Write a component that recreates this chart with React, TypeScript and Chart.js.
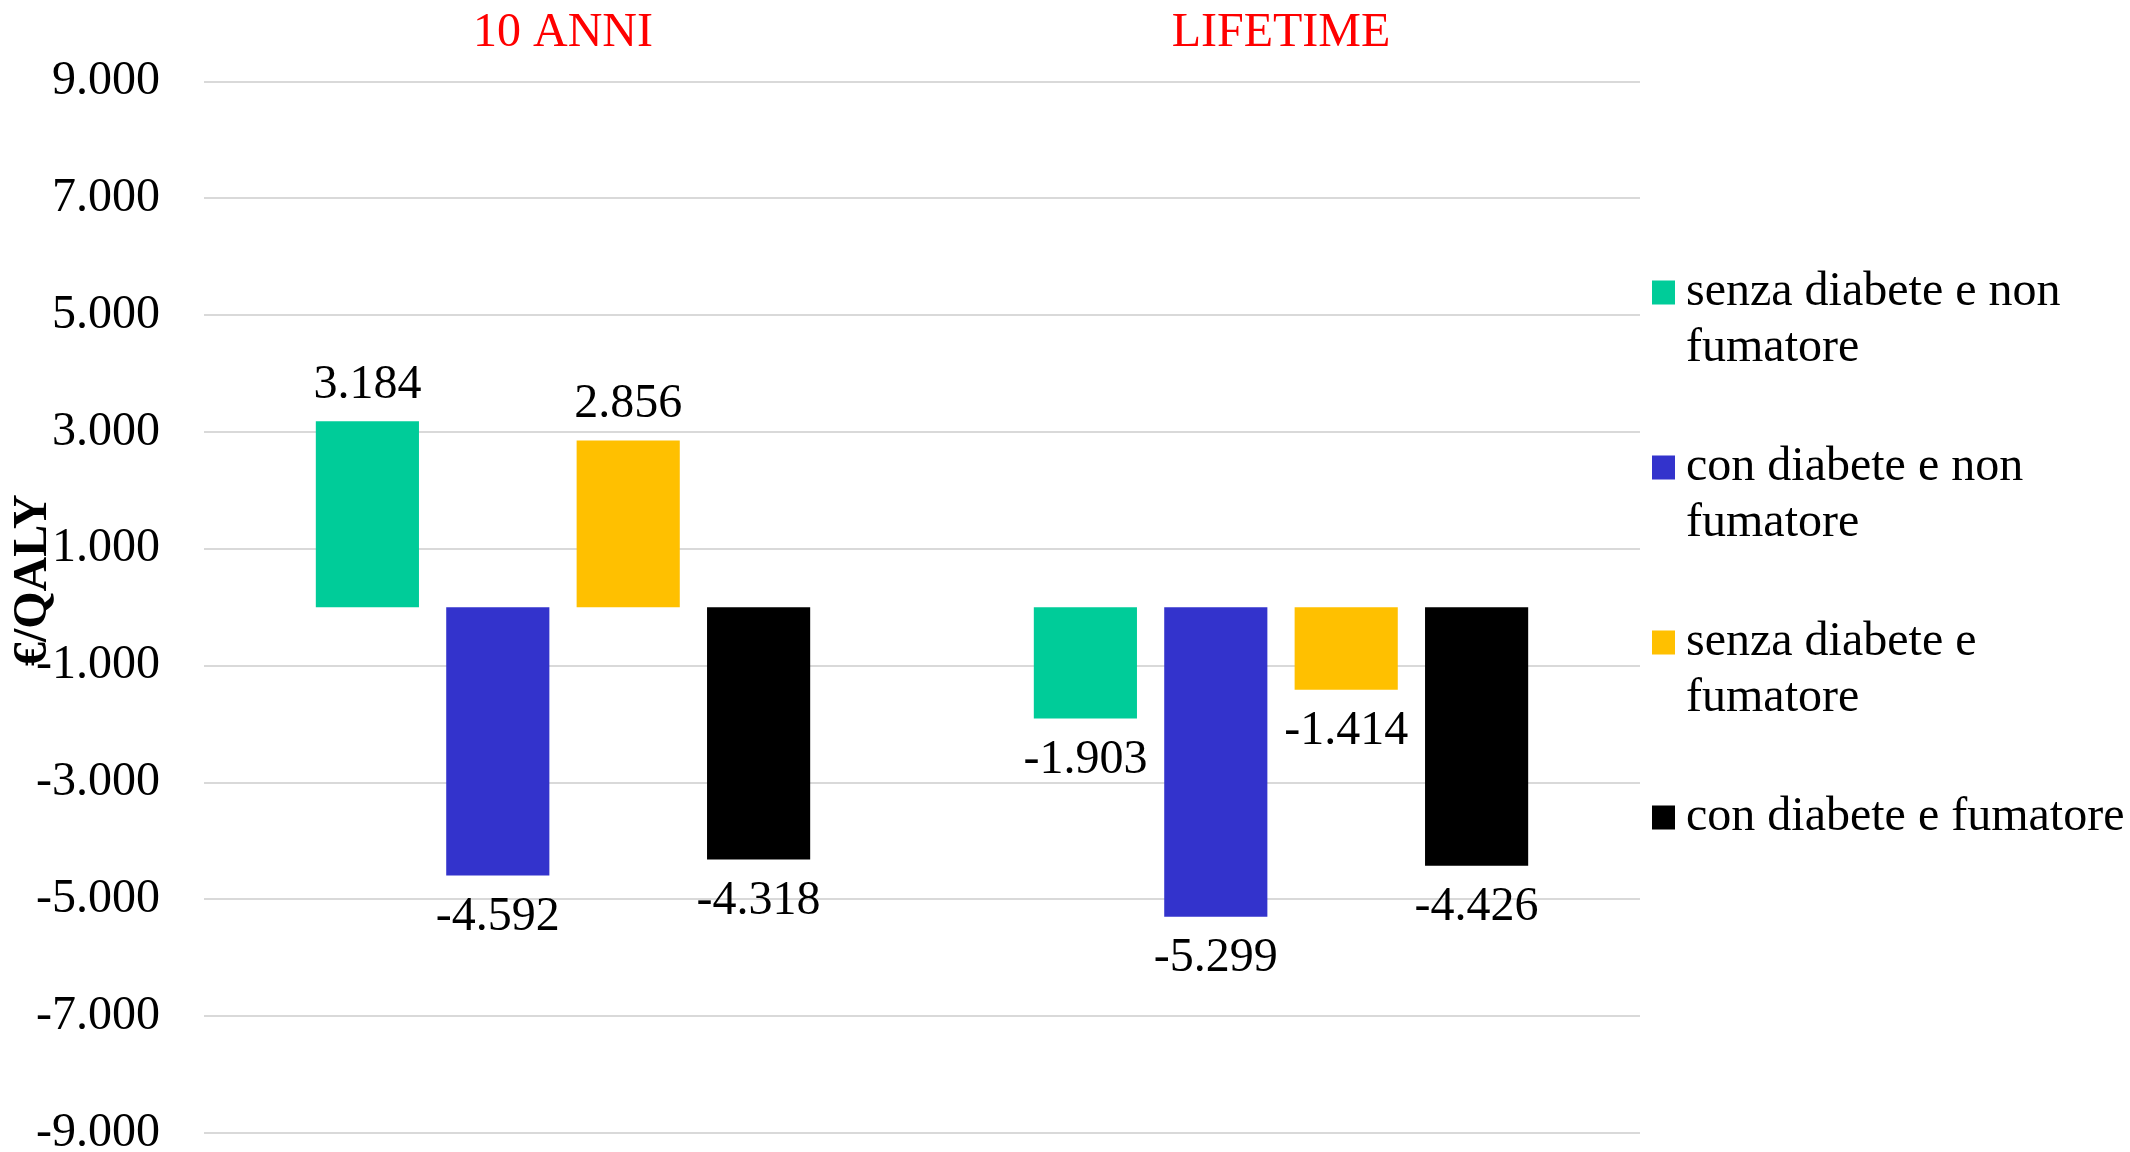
import React, { useEffect, useRef } from "react";
import { Chart, registerables } from "chart.js";

Chart.register(...registerables);

const categories = ["10 ANNI", "LIFETIME"];
const seriesNames = [
  "senza diabete e non fumatore",
  "con diabete e non fumatore",
  "senza diabete e fumatore",
  "con diabete e fumatore",
];
const legendLines = [
  ["senza diabete e non", "fumatore"],
  ["con diabete e non", "fumatore"],
  ["senza diabete e", "fumatore"],
  ["con diabete e fumatore"],
];
const senzaDiabeteNonFumatore = [3184, -1903];
const conDiabeteNonFumatore = [-4592, -5299];
const senzaDiabeteFumatore = [2856, -1414];
const conDiabeteFumatore = [-4318, -4426];
const seriesColors = ["#00CC99", "#3333CC", "#FFC000", "#000000"];
const yTicks = [9000, 7000, 5000, 3000, 1000, -1000, -3000, -5000, -7000, -9000];
const yTitle = "€/QALY";

const FONT = "'Liberation Serif', 'Times New Roman', serif";
const FS = 48;

function fmt(v: number): string {
  const s = Math.abs(Math.round(v)).toString();
  const parts: string[] = [];
  for (let i = s.length; i > 0; i -= 3) parts.unshift(s.slice(Math.max(0, i - 3), i));
  return (v < 0 ? "-" : "") + parts.join(".");
}

const valueLabels = {
  id: "valueLabels",
  afterDatasetsDraw(chart: any) {
    const ctx = chart.ctx;
    ctx.save();
    ctx.font = `${FS}px ${FONT}`;
    ctx.fillStyle = "#000";
    ctx.textAlign = "center";
    ctx.textBaseline = "middle";
    chart.getSortedVisibleDatasetMetas().forEach((meta: any) => {
      const ds = chart.data.datasets[meta.index];
      meta.data.forEach((el: any, i: number) => {
        const v = ds.data[i] as number;
        const y = v >= 0 ? el.y - 36 : el.y + 42;
        ctx.fillText(fmt(v), el.x, y);
      });
    });
    ctx.restore();
  },
};

const yAxisTitle = {
  id: "yAxisTitle",
  afterDraw(chart: any) {
    const ctx = chart.ctx;
    const area = chart.chartArea;
    ctx.save();
    ctx.font = `bold ${FS}px ${FONT}`;
    ctx.fillStyle = "#000";
    ctx.textAlign = "center";
    ctx.textBaseline = "middle";
    ctx.translate(34, (area.top + area.bottom) / 2 - 27);
    ctx.rotate(-Math.PI / 2);
    ctx.fillText(yTitle, 0, 0);
    ctx.restore();
  },
};

const sideLegend = {
  id: "sideLegend",
  afterDraw(chart: any) {
    const ctx = chart.ctx;
    const area = chart.chartArea;
    ctx.save();
    ctx.font = `${FS}px ${FONT}`;
    ctx.textAlign = "left";
    ctx.textBaseline = "middle";
    const boxX = area.right + 12;
    const textX = area.right + 46;
    let y = area.top + 211;
    chart.data.datasets.forEach((ds: any, i: number) => {
      ctx.fillStyle = ds.backgroundColor;
      ctx.fillRect(boxX, y - 12, 23, 24);
      ctx.fillStyle = "#000";
      const lines = legendLines[i];
      lines.forEach((ln: string, k: number) => {
        ctx.fillText(ln, textX, y + k * 56);
      });
      y += 175;
    });
    ctx.restore();
  },
};

export default function App() {
  const ref = useRef<HTMLCanvasElement | null>(null);
  useEffect(() => {
    if (!ref.current) return;
    const seriesData = [
      senzaDiabeteNonFumatore,
      conDiabeteNonFumatore,
      senzaDiabeteFumatore,
      conDiabeteFumatore,
    ];
    const chart = new Chart(ref.current, {
      type: "bar",
      data: {
        labels: categories,
        datasets: seriesNames.map((name, i) => ({
          label: name,
          data: seriesData[i],
          backgroundColor: seriesColors[i],
          borderWidth: 0,
          categoryPercentage: 0.7265,
          barPercentage: 0.791,
        })),
      },
      options: {
        animation: false,
        responsive: false,
        maintainAspectRatio: false,
        devicePixelRatio: 1,
        layout: { padding: { top: 0, right: 490, bottom: 19, left: 0 } },
        plugins: {
          legend: { display: false },
          tooltip: { enabled: false },
        },
        scales: {
          x: {
            position: "top",
            grid: { display: false, drawTicks: false },
            border: { display: false },
            afterFit: (scale: any) => {
              scale.height = 81.5;
              scale.paddingLeft = 0;
              scale.paddingRight = 0;
            },
            ticks: {
              color: "#FF0000",
              padding: 19,
              font: { family: FONT, size: FS, lineHeight: 1.2 },
            },
          },
          y: {
            min: -9000,
            max: 9000,
            afterBuildTicks: (scale: any) => {
              scale.ticks = yTicks.map((v) => ({ value: v }));
            },
            afterFit: (scale: any) => {
              scale.width = 204;
              scale.paddingTop = 0;
              scale.paddingBottom = 0;
            },
            grid: { color: "#D9D9D9", lineWidth: 2, drawTicks: false },
            border: { display: false },
            ticks: {
              color: "#000",
              padding: 44,
              font: { family: FONT, size: FS, lineHeight: 1.2 },
              callback: (v: any) => fmt(Number(v)),
            },
            title: { display: false },
          },
        },
      },
      plugins: [valueLabels, yAxisTitle, sideLegend],
    });
    return () => chart.destroy();
  }, []);
  return (
    <div style={{ position: "absolute", left: 0, top: 0, width: 2130, height: 1152, background: "#fff" }}>
      <canvas ref={ref} width={2130} height={1152} style={{ display: "block" }} />
    </div>
  );
}
